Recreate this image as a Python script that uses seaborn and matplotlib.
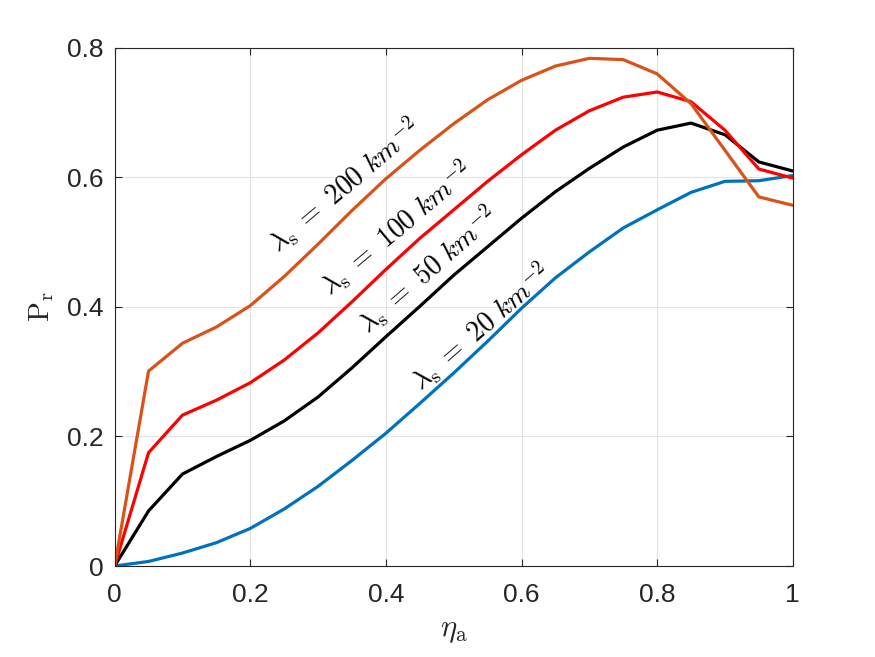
import numpy as np
import pandas as pd
import matplotlib
matplotlib.use('Agg')
import matplotlib.pyplot as plt
import seaborn as sns

# datos
eta_a = [0, 0.05, 0.1, 0.15, 0.2, 0.25, 0.3, 0.35, 0.4, 0.45, 0.5,
         0.55, 0.6, 0.65, 0.7, 0.75, 0.8, 0.85, 0.9, 0.95, 1.0]

pr_20 = [0, 0.007, 0.02, 0.036, 0.058, 0.088, 0.123, 0.163, 0.205, 0.251, 0.298,
         0.347, 0.398, 0.445, 0.485, 0.522, 0.550, 0.577, 0.594, 0.595, 0.603]
pr_50 = [0, 0.085, 0.142, 0.169, 0.194, 0.224, 0.261, 0.306, 0.354, 0.401, 0.449,
         0.493, 0.537, 0.578, 0.614, 0.647, 0.673, 0.684, 0.666, 0.624, 0.610]
pr_100 = [0, 0.175, 0.233, 0.256, 0.283, 0.318, 0.360, 0.408, 0.458, 0.506, 0.550,
          0.594, 0.635, 0.673, 0.703, 0.724, 0.732, 0.717, 0.673, 0.613, 0.599]
pr_200 = [0, 0.301, 0.344, 0.369, 0.402, 0.447, 0.497, 0.549, 0.598, 0.642, 0.683,
          0.720, 0.750, 0.772, 0.784, 0.782, 0.760, 0.714, 0.642, 0.570, 0.557]

series = [('20', pr_20, '#0072BD'),
          ('50', pr_50, 'black'),
          ('100', pr_100, 'red'),
          ('200', pr_200, '#D95319')]

# etiquetas sobre las curvas: (texto, x, y, angulo)
labels = [(r'$\lambda_{\rm s}\ =\ 200\ km^{-2}$', 0.339, 0.588, 40),
          (r'$\lambda_{\rm s}\ =\ 100\ km^{-2}$', 0.416, 0.522, 40),
          (r'$\lambda_{\rm s}\ =\ 50\ km^{-2}$', 0.463, 0.458, 41),
          (r'$\lambda_{\rm s}\ =\ 20\ km^{-2}$', 0.541, 0.370, 41)]

sns.set_style('whitegrid')
plt.rcParams['font.family'] = ['Liberation Sans', 'DejaVu Sans']
plt.rcParams['mathtext.fontset'] = 'cm'

fig = plt.figure(figsize=(8.75, 6.57), dpi=100)
ax = fig.add_axes([0.131, 0.1385, 0.775, 0.7885])

for name, vals, color in series:
    df = pd.DataFrame({'eta': eta_a, 'pr': vals})
    sns.lineplot(data=df, x='eta', y='pr', color=color, linewidth=2.3, ax=ax)

for txt, x, y, ang in labels:
    ax.text(x, y, txt, rotation=ang, rotation_mode='anchor', ha='center', va='center',
            fontsize=20, color='black')

ax.set_xlim(0, 1)
ax.set_ylim(0, 0.8)
ax.set_xticks([0, 0.2, 0.4, 0.6, 0.8, 1])
ax.set_xticklabels(['0', '0.2', '0.4', '0.6', '0.8', '1'])
ax.set_yticks([0, 0.2, 0.4, 0.6, 0.8])
ax.set_yticklabels(['0', '0.2', '0.4', '0.6', '0.8'])
ax.grid(True, color='#e3e3e3', linewidth=0.8)
for s in ax.spines.values():
    s.set_visible(True)
    s.set_color('#262626')
    s.set_linewidth(0.8)
ax.tick_params(direction='in', length=5, width=0.8, colors='#262626',
               labelsize=19, top=True, right=True, bottom=True, left=True)
ax.tick_params(axis='x', pad=12)
ax.tick_params(axis='y', pad=8)
ax.set_xlabel(r'$\eta_{\rm a}$', fontsize=22, color='#262626', labelpad=6)
ax.set_ylabel(r'$\mathrm{P}_{\rm r}$', fontsize=21, color='#262626', labelpad=8)

fig.savefig('out.png', dpi=100, facecolor='white')
